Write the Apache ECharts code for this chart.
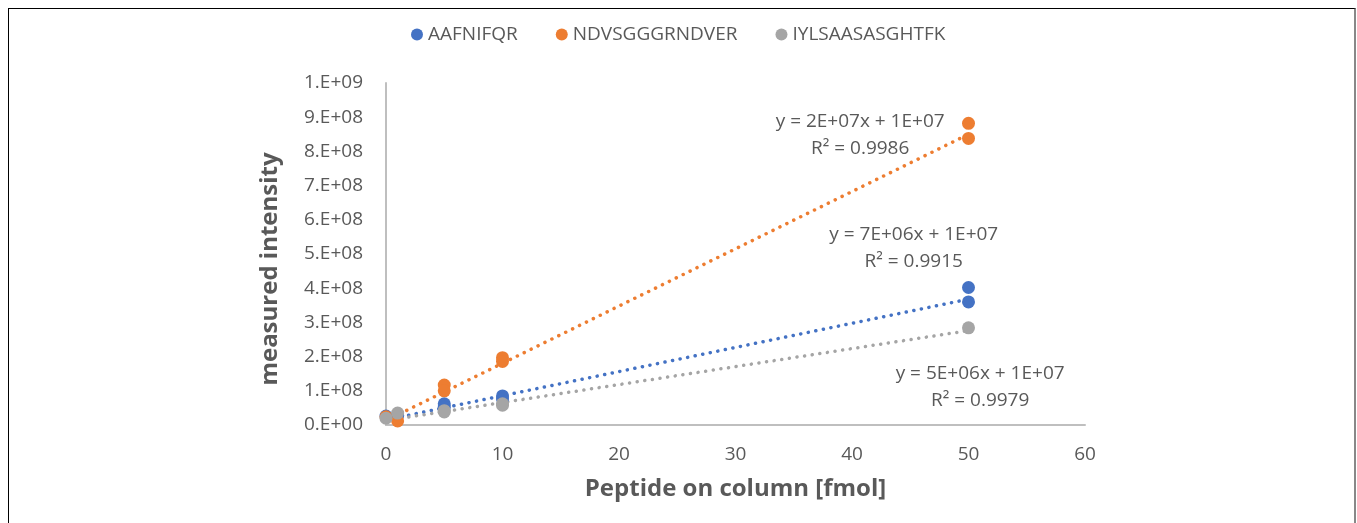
<!DOCTYPE html>
<html style="height: 100%">
<head>
<meta charset="utf-8">
<script src="https://cdn.jsdelivr.net/npm/echarts@6/dist/echarts.min.js"></script>
</head>
<body style="height: 100%; margin: 0; background: #fff">
	<div id="frame" style="position:absolute;left:8px;top:8px;width:1345px;height:600px;border-left:1px solid #000;border-top:1px solid #000;border-right:2px solid #888;"></div>
	<div id="container" style="position:absolute;left:0;top:0;width:1357px;height:523px;"></div>
	<script type="text/javascript">
		// measured points
		var namesSeries = ['AAFNIFQR', 'NDVSGGGRNDVER', 'IYLSAASASGHTFK'];
		var colors = ['#4472C4', '#ED7D31', '#A5A5A5'];
		var blueData = [[0, 2.6e7], [1, 2.8e7], [5, 6.2e7], [5, 5.2e7], [10, 8.5e7], [10, 7.6e7], [50, 4.02e8], [50, 3.6e8]];
		var orangeData = [[0, 2.4e7], [1, 1.2e7], [5, 1.17e8], [5, 1.0e8], [10, 1.97e8], [10, 1.86e8], [50, 8.82e8], [50, 8.38e8]];
		var grayData = [[0, 2.0e7], [1, 3.5e7], [5, 4.2e7], [5, 3.8e7], [10, 6.2e7], [10, 5.8e7], [50, 2.84e8]];
		// trendline ends (x=0 and x=50)
		var blueTrend = [[0, 1.5e7], [50, 3.68e8]];
		var orangeTrend = [[0, 1.3e7], [50, 8.5e8]];
		var grayTrend = [[0, 1.3e7], [50, 2.76e8]];
		var eqLabels = ['y = 7E+06x + 1E+07\nR² = 0.9915', 'y = 2E+07x + 1E+07\nR² = 0.9986', 'y = 5E+06x + 1E+07\nR² = 0.9979'];
		var eqCoords = [[45.3, 5.17e8], [40.7, 8.47e8], [51.0, 1.12e8]];
		var yTickLabels = ['0.E+00', '1.E+08', '2.E+08', '3.E+08', '4.E+08', '5.E+08', '6.E+08', '7.E+08', '8.E+08', '9.E+08', '1.E+09'];

		var txt = '#595959';
		var font = '"Open Sans", "Noto Sans", sans-serif';
		var pts = [blueData, orangeData, grayData];
		var trends = [blueTrend, orangeTrend, grayTrend];

		var series = [];
		for (var i = 0; i < 3; i++) {
			series.push({
				name : namesSeries[i] + ' trend',
				type : 'line',
				data : trends[i],
				symbol : 'none',
				silent : true,
				z : 1,
				lineStyle : { color : colors[i], width : 3.5, type : [0.1, 7.6], cap : 'round' },
				markPoint : {
					symbol : 'circle', symbolSize : 0,
					data : [ { coord : eqCoords[i] } ],
					label : { show : true, position : 'inside', formatter : eqLabels[i], color : txt, fontSize : 19, fontFamily : font, lineHeight : 27, align : 'center' }
				}
			});
		}
		for (var i = 0; i < 3; i++) {
			series.push({
				name : namesSeries[i],
				type : 'scatter',
				data : pts[i],
				symbol : 'circle',
				symbolSize : 13,
				z : 3,
				itemStyle : { color : colors[i], opacity : 1 }
			});
		}

		var myChart = echarts.init(document.getElementById("container"));
		var option = {
			animation : false,
			textStyle : { fontFamily : font },
			legend : {
				data : namesSeries,
				top : 20,
				left : 406,
				icon : 'circle',
				itemWidth : 12, itemHeight : 12,
				itemGap : 38,
				textStyle : { color : txt, fontSize : 19, fontFamily : font }
			},
			grid : { left : 386, right : 272, top : 83, bottom : 98 },
			xAxis : {
				type : 'value', min : 0, max : 60, interval : 10,
				name : 'Peptide on column [fmol]', nameLocation : 'middle', nameGap : 52,
				nameTextStyle : { color : txt, fontSize : 24, fontWeight : 'bold', fontFamily : font },
				axisLine : { show : true, lineStyle : { color : '#BFBFBF', width : 2 } },
				axisTick : { show : false },
				splitLine : { show : false },
				axisLabel : { color : txt, fontSize : 19, margin : 20, fontFamily : font }
			},
			yAxis : {
				type : 'value', min : 0, max : 1e9, interval : 1e8,
				name : 'measured intensity', nameLocation : 'middle', nameGap : 104,
				nameTextStyle : { color : txt, fontSize : 24, fontWeight : 'bold', fontFamily : font, padding : [0, 30, 0, 0] },
				axisLine : { show : true, lineStyle : { color : '#BFBFBF', width : 2 } },
				axisTick : { show : false },
				splitLine : { show : false },
				axisLabel : { color : txt, fontSize : 19, margin : 23, fontFamily : font,
					formatter : function(v) { return yTickLabels[Math.round(v / 1e8)]; } }
			},
			series : series
		};
		myChart.setOption(option, true);
	</script>
</body>
</html>
